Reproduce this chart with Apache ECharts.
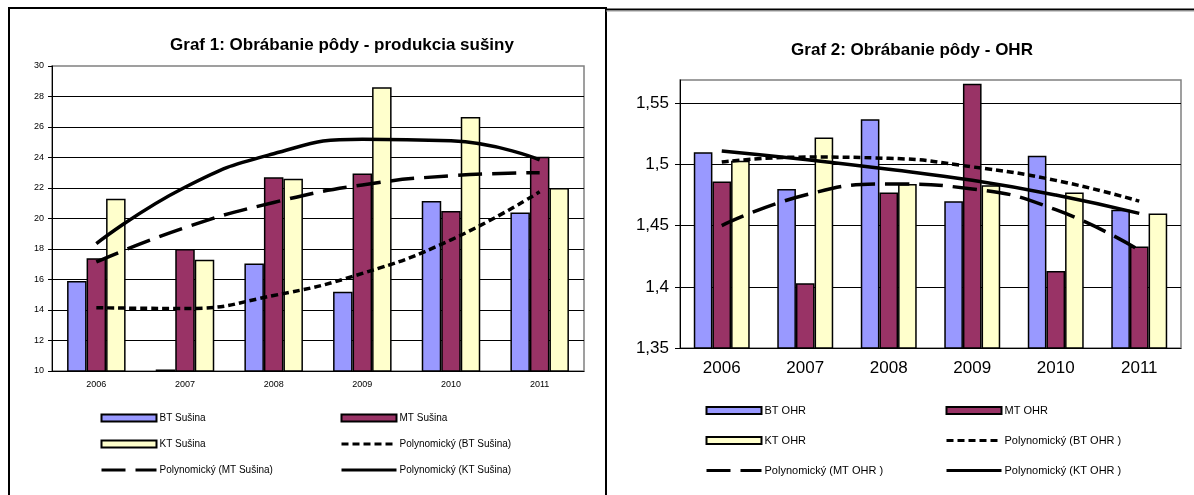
<!DOCTYPE html>
<html>
<head>
<meta charset="utf-8">
<script src="https://cdn.jsdelivr.net/npm/echarts@6/dist/echarts.min.js"></script>
<style>
html,body{margin:0;padding:0;background:#fff;}
#c{width:1194px;height:495px;}
</style>
</head>
<body>
<div id="c"></div>
<script>
// ---------- data ----------
const categories = ['2006', '2007', '2008', '2009', '2010', '2011'];

// Graf 1: produkcia sušiny
const btSusina = [15.9, 10.1, 17.05, 15.2, 21.15, 20.4];
const mtSusina = [17.4, 18.0, 22.7, 22.95, 20.5, 24.05];
const ktSusina = [21.3, 17.3, 22.6, 28.6, 26.65, 22.0];
const btSusinaTrend = [14.15, 14.1, 14.95, 16.4, 18.6, 21.75];
const mtSusinaTrend = [17.15, 19.4, 21.05, 22.2, 22.8, 23.0];
const ktSusinaTrend = [18.35, 22.05, 24.25, 25.2, 25.1, 23.85];

// Graf 2: OHR
const btOhr = [1.51, 1.48, 1.537, 1.47, 1.507, 1.463];
const mtOhr = [1.486, 1.403, 1.477, 1.566, 1.413, 1.433];
const ktOhr = [1.503, 1.522, 1.484, 1.483, 1.477, 1.46];
const btOhrTrend = [1.502, 1.506, 1.505, 1.498, 1.487, 1.47];
const mtOhrTrend = [1.45, 1.475, 1.484, 1.48, 1.463, 1.43];
const ktOhrTrend = [1.511, 1.504, 1.496, 1.487, 1.475, 1.46];

const names1 = ['BT Sušina', 'MT Sušina', 'KT Sušina',
  'Polynomický (BT Sušina)', 'Polynomický (MT Sušina)', 'Polynomický (KT Sušina)'];
const names2 = ['BT OHR', 'MT OHR', 'KT OHR',
  'Polynomický (BT OHR )', 'Polynomický (MT OHR )', 'Polynomický (KT OHR )'];

// ---------- styles ----------
const FONT = '"Liberation Sans", Arial, sans-serif';
const cBT = '#9999FF', cMT = '#993366', cKT = '#FFFFCC';

function bar(name, data, color, idx, gap) {
  return {
    type: 'bar', name, data, xAxisIndex: idx, yAxisIndex: idx,
    barGap: '0%', barCategoryGap: gap,
    itemStyle: { color, borderColor: '#000', borderWidth: 1.5 },
    emphasis: { disabled: true }, animation: false
  };
}
function trend(name, data, idx, type, w) {
  return {
    type: 'line', name, data, xAxisIndex: idx, yAxisIndex: idx,
    smooth: true, symbol: 'none', z: 5,
    lineStyle: { color: '#000', width: w, type, cap: 'butt' },
    itemStyle: { color: 'transparent', borderColor: 'transparent', borderWidth: 0 },
    emphasis: { disabled: true }, animation: false
  };
}

function legendCol(names, isBar, left, top, gap, fs) {
  return {
    orient: 'vertical', left, top, itemGap: gap, padding: 0,
    itemWidth: 55, itemHeight: 7, selectedMode: false,
    data: names.map((n, i) => isBar[i]
      ? { name: n, icon: 'rect' }
      : { name: n, itemStyle: { opacity: 0 }, lineStyle: { width: 3 } }),
    textStyle: { fontFamily: FONT, fontSize: fs, color: '#000', padding: [0, 0, 0, -2] }
  };
}

const option = {
  backgroundColor: '#fff',
  animation: false,
  title: [
    { text: 'Graf 1: Obrábanie pôdy - produkcia sušiny', left: 337, top: 32, textAlign: 'center',
      textStyle: { fontFamily: FONT, fontSize: 17, fontWeight: 'bold', color: '#000' } },
    { text: 'Graf 2: Obrábanie pôdy - OHR', left: 907, top: 37, textAlign: 'center',
      textStyle: { fontFamily: FONT, fontSize: 17, fontWeight: 'bold', color: '#000' } }
  ],
  grid: [
    { left: 52, top: 66, width: 532, height: 305, show: true, borderColor: '#808080', borderWidth: 1.5, backgroundColor: '#fff' },
    { left: 680, top: 80, width: 501, height: 268, show: true, borderColor: '#808080', borderWidth: 1.5, backgroundColor: '#fff' }
  ],
  xAxis: [
    { type: 'category', gridIndex: 0, data: categories,
      axisLine: { lineStyle: { color: '#000', width: 1 } },
      axisTick: { length: 4, lineStyle: { color: '#000' } },
      axisLabel: { fontFamily: FONT, fontSize: 9, color: '#000', margin: 9 } },
    { type: 'category', gridIndex: 1, data: categories,
      axisLine: { lineStyle: { color: '#000', width: 1 } },
      axisTick: { length: 5, lineStyle: { color: '#000' } },
      axisLabel: { fontFamily: FONT, fontSize: 17, color: '#000', margin: 12 } }
  ],
  yAxis: [
    { type: 'value', gridIndex: 0, min: 10, max: 30, interval: 2,
      axisLine: { show: true, lineStyle: { color: '#000' } },
      axisTick: { show: true, length: 4, lineStyle: { color: '#000' } },
      axisLabel: { fontFamily: FONT, fontSize: 9, color: '#000', margin: 8 },
      splitLine: { show: true, showMaxLine: false, lineStyle: { color: '#000', width: 1 } } },
    { type: 'value', gridIndex: 1, min: 1.35, max: 1.569, interval: 0.05,
      axisLine: { show: true, lineStyle: { color: '#000' } },
      axisTick: { show: true, length: 5, lineStyle: { color: '#000' } },
      axisLabel: { fontFamily: FONT, fontSize: 17, color: '#000', margin: 11, showMaxLabel: false,
        formatter: v => String(Math.round(v * 100) / 100).replace('.', ',') },
      splitLine: { show: true, showMaxLine: false, lineStyle: { color: '#000', width: 1 } } }
  ],
  legend: [
    legendCol([names1[0], names1[2], names1[4]], [true, true, false], 100, 413, 16, 10),
    legendCol([names1[1], names1[3], names1[5]], [true, false, false], 340, 413, 16, 10),
    legendCol([names2[0], names2[2], names2[4]], [true, true, false], 705, 405, 19, 11),
    legendCol([names2[1], names2[3], names2[5]], [true, false, false], 945, 405, 19, 11)
  ],
  series: [
    bar(names1[0], btSusina, cBT, 0, '34%'),
    bar(names1[1], mtSusina, cMT, 0, '34%'),
    bar(names1[2], ktSusina, cKT, 0, '34%'),
    trend(names1[3], btSusinaTrend, 0, [7, 4], 3.5),
    trend(names1[4], mtSusinaTrend, 0, [24, 10], 3.5),
    trend(names1[5], ktSusinaTrend, 0, 'solid', 3.5),
    bar(names2[0], btOhr, cBT, 1, '33%'),
    bar(names2[1], mtOhr, cMT, 1, '33%'),
    bar(names2[2], ktOhr, cKT, 1, '33%'),
    trend(names2[3], btOhrTrend, 1, [7, 4], 3.5),
    trend(names2[4], mtOhrTrend, 1, [24, 10], 3.5),
    trend(names2[5], ktOhrTrend, 1, 'solid', 3.5)
  ],
  graphic: [
    { type: 'line', shape: { x1: 9, y1: 8, x2: 9, y2: 495 }, style: { stroke: '#000', lineWidth: 2 } },
    { type: 'line', shape: { x1: 8, y1: 8, x2: 607, y2: 8 }, style: { stroke: '#000', lineWidth: 2 } },
    { type: 'line', shape: { x1: 606, y1: 8, x2: 606, y2: 495 }, style: { stroke: '#000', lineWidth: 2 } },
    { type: 'line', shape: { x1: 606, y1: 9.5, x2: 1194, y2: 9.5 }, style: { stroke: '#000', lineWidth: 2 } },
    { type: 'line', shape: { x1: 606, y1: 11, x2: 1194, y2: 11 }, style: { stroke: '#999', lineWidth: 1 } }
  ]
};

const chart = echarts.init(document.getElementById('c'), null, { renderer: 'canvas' });
chart.setOption(option);
</script>
</body>
</html>
